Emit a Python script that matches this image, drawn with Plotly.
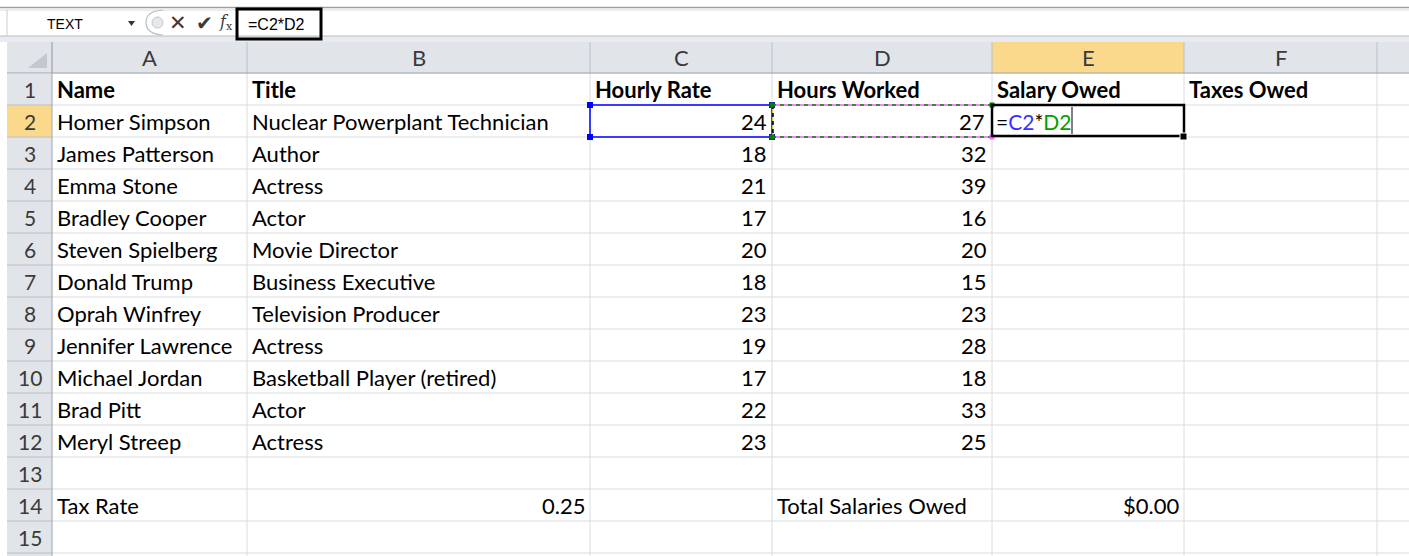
import plotly.graph_objects as go

# ---- data ----
col_letters = ["A", "B", "C", "D", "E", "F", ""]
header_row = ["Name", "Title", "Hourly Rate", "Hours Worked", "Salary Owed", "Taxes Owed"]
names = ["Homer Simpson", "James Patterson", "Emma Stone", "Bradley Cooper", "Steven Spielberg",
         "Donald Trump", "Oprah Winfrey", "Jennifer Lawrence", "Michael Jordan", "Brad Pitt", "Meryl Streep"]
titles = ["Nuclear Powerplant Technician", "Author", "Actress", "Actor", "Movie Director",
          "Business Executive", "Television Producer", "Actress", "Basketball Player (retired)", "Actor", "Actress"]
hourly_rate = [24, 18, 21, 17, 20, 18, 23, 19, 17, 22, 23]
hours_worked = [27, 32, 39, 16, 20, 15, 23, 28, 18, 33, 25]
tax_label = "Tax Rate"
tax_rate = "0.25"
total_label = "Total Salaries Owed"
total_value = "$0.00"
name_box = "TEXT"
formula = "=C2*D2"

# ---- layout geometry ----
W, H = 1409, 556
col_edges = [7, 52, 247, 590, 772, 992, 1184, 1377, 1420]
hdr_top, hdr_bot = 42, 73
row_h = 32
n_rows = 15
FONT = "Lato"
FS = 22
TXT = "#000000"
GRID = "#dadcdd"
HDR_BG = "#e1e5ea"
HDR_LINE = "#b9bec6"
SEL_BG = "#fbd98c"

shapes = []
ann = []

def rect(x0, y0, x1, y1, fill=None, line=None, lw=1, dash=None, layer="above"):
    d = dict(type="rect", x0=x0, y0=y0, x1=x1, y1=y1, xref="x", yref="y", layer=layer,
             line=dict(width=lw if line else 0, color=line or "rgba(0,0,0,0)"))
    if dash:
        d["line"]["dash"] = dash
    if fill:
        d["fillcolor"] = fill
    shapes.append(d)

def line(x0, y0, x1, y1, color, lw=1, dash=None):
    d = dict(type="line", x0=x0, y0=y0, x1=x1, y1=y1, xref="x", yref="y",
             line=dict(color=color, width=lw))
    if dash:
        d["line"]["dash"] = dash
    shapes.append(d)

def text(x, y, s, anchor="left", size=FS, bold=False, color=TXT, family=FONT):
    ann.append(dict(x=x, y=y, xref="x", yref="y", text=("<b>%s</b>" % s) if bold else s,
                    showarrow=False, xanchor=anchor, yanchor="middle",
                    font=dict(family=family, size=size, color=color)))

def row_y(r):
    return hdr_bot + row_h * (r - 1)

# ---- formula bar ----
rect(0, 0, W, 42, fill="#ffffff")
line(0, 7.5, W, 7.5, "#9aa0a8", 1.5)
line(0, 10, W, 10, "#d8dbe0", 1)
rect(0, 36, W, 42, fill="#e8ebef")
line(0, 36, W, 36, "#b8bcc2", 1)
line(7, 10, 7, 36, "#c8ccd2", 1)
text(65, 24, name_box, anchor="center", size=14, family="Liberation Sans")
shapes.append(dict(type="path", path="M 128 21 L 135 21 L 131.5 26 Z", xref="x", yref="y",
                   fillcolor="#333333", line=dict(width=0)))
shapes.append(dict(type="path", path="M 163 10 Q 146 11 146 22.5 Q 146 34 163 35", xref="x", yref="y",
                   line=dict(color="#b8bcc2", width=1.2)))
shapes.append(dict(type="circle", x0=152, y0=17, x1=163, y1=28, xref="x", yref="y",
                   fillcolor="#e6e8eb", line=dict(color="#c4c7cc", width=1)))
text(178, 23, "✕", anchor="center", size=21, color="#3a3a3a", family="DejaVu Sans")
text(204, 23, "✔", anchor="center", size=20, color="#3a3a3a", family="DejaVu Sans")
text(226, 22, "<i>f</i><sub>x</sub>", anchor="center", size=16, color="#3a3a3a", family="DejaVu Serif")
rect(237, 9, 321, 39, line="#000000", lw=3)
text(246, 24, formula, anchor="left", size=16, family="Liberation Sans")

# ---- grid area ----
rect(col_edges[1], hdr_bot, W, row_y(n_rows + 1) + 10, fill="#ffffff")
for r in range(1, n_rows + 2):
    line(col_edges[1], row_y(r), W, row_y(r), GRID, 1)
for x in col_edges[2:-1]:
    line(x, hdr_bot, x, H, GRID, 1)

# column headers
rect(col_edges[0], hdr_top, W, hdr_bot, fill=HDR_BG)
for i, letter in enumerate(col_letters):
    x0, x1 = col_edges[i + 1], col_edges[i + 2]
    if letter == "E":
        rect(x0, hdr_top, x1, hdr_bot, fill=SEL_BG)
    if letter:
        text((x0 + x1) / 2, (hdr_top + hdr_bot) / 2, letter, anchor="center", size=22, color="#3a3a3a")
for x in col_edges[1:-1]:
    line(x, hdr_top, x, hdr_bot, HDR_LINE, 1)
line(col_edges[0], hdr_bot, W, hdr_bot, "#9fa6b0", 1)
# corner triangle
shapes.append(dict(type="path", path="M 47 53 L 47 68 L 28 68 Z", xref="x", yref="y",
                   fillcolor="#c3c8cf", line=dict(width=0)))

# row headers
rect(col_edges[0], hdr_bot, col_edges[1], H, fill=HDR_BG)
rect(col_edges[0], row_y(2), col_edges[1], row_y(3), fill=SEL_BG)
for r in range(1, n_rows + 2):
    line(col_edges[0], row_y(r), col_edges[1], row_y(r), HDR_LINE, 1)
for r in range(1, n_rows + 1):
    text(30, row_y(r) + 16, str(r), anchor="center", size=21, color="#3a3a3a")
line(col_edges[1], hdr_top, col_edges[1], H, "#9fa6b0", 1)

# ---- cell contents ----
cy = lambda r: row_y(r) + 16
for i, h in enumerate(header_row):
    text(col_edges[i + 1] + 3, cy(1), h, bold=True)
for k in range(len(names)):
    r = k + 2
    text(col_edges[1] + 3, cy(r), names[k])
    text(col_edges[2] + 3, cy(r), titles[k])
    text(col_edges[4] - 3, cy(r), str(hourly_rate[k]), anchor="right")
    if r != 2:
        text(col_edges[5] - 3, cy(r), str(hours_worked[k]), anchor="right")
text(col_edges[5] - 5, cy(2), str(hours_worked[0]), anchor="right")
text(col_edges[1] + 3, cy(14), tax_label)
text(col_edges[3] - 3, cy(14), tax_rate, anchor="right")
text(col_edges[4] + 3, cy(14), total_label)
text(col_edges[6] - 3, cy(14), total_value, anchor="right")

# ---- selection decorations ----
# C2 blue reference box
c0, c1 = col_edges[3], col_edges[4]
y0, y1 = row_y(2), row_y(3)
rect(c0, y0, c1, y1, line="#0000ff", lw=1.5)
for (qx, qy) in [(c0, y0), (c1, y0), (c0, y1), (c1, y1)]:
    rect(qx - 3, qy - 3, qx + 3, qy + 3, fill="#0000ff")
# D2 marching ants (green / pink)
d0, d1 = col_edges[4], col_edges[5]
for yy in (y0, y1):
    line(d0, yy, d1, yy, "#ff66ff", 1.5)
    line(d0, yy, d1, yy, "#008000", 1.5, dash="4px,4px")
line(d1, y0, d1, y1, "#ff66ff", 1.5)
line(d1, y0, d1, y1, "#008000", 1.5, dash="4px,4px")
line(d0 + 1, y0, d0 + 1, y1, "#000000", 1.5, dash="4px,4px")
line(d0 + 1, y0, d0 + 1, y1, "#ffff00", 1.5, dash="0px,4px,4px,0px")
rect(d0 - 2.5, y0 - 2.5, d0 + 2.5, y0 + 2.5, fill="#008000")
rect(d1 - 2.5, y0 - 2.5, d1 + 2.5, y0 + 2.5, fill="#008000")
rect(d0 - 2.5, y1 - 2.5, d0 + 2.5, y1 + 2.5, fill="#008000")
rect(d1 - 2.5, y1 - 2.5, d1 + 2.5, y1 + 2.5, fill="#ff66ff")
# E2 active cell
e0, e1 = col_edges[5], col_edges[6]
rect(e0, y0, e1, y1 - 1, line="#000000", lw=2.5)
rect(e1 - 4, y1 - 4, e1 + 3, y1 + 3, fill="#000000", line="#ffffff", lw=1)
ann.append(dict(x=e0 + 2, y=cy(2), xref="x", yref="y", showarrow=False, xanchor="left", yanchor="middle",
                text='=<span style="color:#3333ff">C2</span>*<span style="color:#00a000">D2</span>',
                font=dict(family=FONT, size=21, color="#000000")))
line(1072, y0 + 2, 1072, y1 - 3, "#000000", 1)

fig = go.Figure()
fig.add_trace(go.Scatter(x=[0, W], y=[0, H], mode="markers", marker=dict(opacity=0), hoverinfo="skip",
                         showlegend=False))
fig.update_layout(width=W, height=H, margin=dict(l=0, r=0, t=0, b=0),
                  paper_bgcolor="#ffffff", plot_bgcolor="#ffffff",
                  xaxis=dict(range=[0, W], visible=False, fixedrange=True),
                  yaxis=dict(range=[H, 0], visible=False, fixedrange=True),
                  shapes=shapes, annotations=ann, showlegend=False)
fig.write_html("out.html", config={"displayModeBar": False},
               post_script="document.body.style.margin='0';document.body.style.overflow='hidden';")
